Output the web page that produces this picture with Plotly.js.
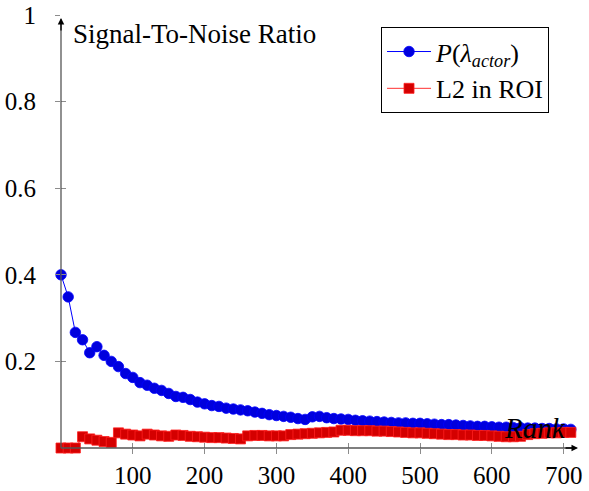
<!DOCTYPE html>
<html>
<head>
<meta charset="utf-8">
<script src="https://cdn.plot.ly/plotly-3.0.1.min.js"></script>
<style>html,body{margin:0;padding:0;background:#fff;}</style>
</head>
<body>
<div id="chart" style="width:589px;height:491px;"></div>
<script>
const ranks = [0,10,20,30,40,50,60,70,80,90,100,110,120,130,140,150,160,170,180,190,200,210,220,230,240,250,260,270,280,290,300,310,320,330,340,350,360,370,380,390,400,410,420,430,440,450,460,470,480,490,500,510,520,530,540,550,560,570,580,590,600,610,620,630,640,650,660,670,680,690,700,710];
const pActor = [0.400,0.349,0.267,0.250,0.220,0.234,0.214,0.200,0.188,0.172,0.163,0.151,0.145,0.138,0.133,0.126,0.119,0.117,0.112,0.106,0.102,0.098,0.096,0.092,0.090,0.088,0.086,0.083,0.080,0.077,0.075,0.073,0.071,0.068,0.066,0.072,0.073,0.070,0.068,0.067,0.066,0.064,0.063,0.062,0.061,0.060,0.059,0.058,0.058,0.057,0.057,0.056,0.055,0.054,0.054,0.053,0.052,0.051,0.050,0.050,0.049,0.048,0.048,0.047,0.047,0.046,0.046,0.045,0.045,0.044,0.044,0.043];
const l2Roi = [0.0,0.0,0.0,0.026,0.021,0.018,0.015,0.013,0.035,0.032,0.030,0.028,0.032,0.030,0.028,0.027,0.030,0.029,0.027,0.026,0.025,0.024,0.024,0.023,0.022,0.021,0.028,0.029,0.029,0.028,0.028,0.028,0.031,0.032,0.033,0.034,0.035,0.036,0.037,0.041,0.041,0.040,0.040,0.040,0.039,0.039,0.038,0.037,0.036,0.035,0.035,0.034,0.033,0.032,0.031,0.031,0.030,0.030,0.029,0.029,0.028,0.027,0.026,0.026,0.027,0.031,0.033,0.034,0.035,0.035,0.036,0.036];
const xTicks = [100,200,300,400,500,600,700];
const yTicks = [0.2,0.4,0.6,0.8,1];
const yTickText = ["0.2","0.4","0.6","0.8","1"];

const FONT = 'Liberation Serif';

const traces = [
  {x: ranks, y: pActor, type:'scatter', mode:'lines+markers', name:'<i>P</i>(<i>λ</i><sub><i>actor</i></sub>)',
   line:{color:'#0000ff', width:1}, marker:{symbol:'circle', size:10.5, color:'#0000dd', line:{color:'#0000ff', width:0.8}},
   cliponaxis:false},
  {x: ranks, y: l2Roi, type:'scatter', mode:'lines+markers', name:'L2 in ROI',
   line:{color:'#ff3030', width:1}, marker:{symbol:'square', size:10, color:'#d40000', line:{color:'#ff2020', width:0.8}},
   cliponaxis:false},
  {x: [], y: [], xaxis:'x2', yaxis:'y2', showlegend:false, type:'scatter'}
];

const axCommon = {showgrid:false, zeroline:false, showline:false, ticklen:5, tickwidth:1, tickcolor:'#8c8c8c',
  tickfont:{family:FONT, size:25, color:'#000'}};

const layout = {
  width:589, height:491,
  margin:{l:61, r:11, t:15, b:43},
  paper_bgcolor:'#fff', plot_bgcolor:'#fff',
  showlegend:true,
  font:{family:FONT, size:25, color:'#000'},
  xaxis: Object.assign({}, axCommon, {range:[0,720], tickvals:xTicks, ticktext:xTicks.map(String), ticks:'outside', ticklabelstandoff:0}),
  yaxis: Object.assign({}, axCommon, {range:[0,1], tickvals:yTicks, ticktext:yTickText, ticks:'outside', ticklabelstandoff:14}),
  xaxis2: Object.assign({}, axCommon, {range:[0,720], tickvals:xTicks, ticks:'inside', showticklabels:false, overlaying:'x', anchor:'y', side:'bottom'}),
  yaxis2: Object.assign({}, axCommon, {range:[0,1], tickvals:yTicks, ticks:'inside', showticklabels:false, overlaying:'y', anchor:'x', side:'left'}),
  legend:{x:0.619, y:0.972, xanchor:'left', yanchor:'top', bgcolor:'#fff', bordercolor:'#000', borderwidth:1,
    font:{family:FONT, size:26, color:'#000'}, tracegroupgap:0, itemwidth:44, entrywidth:140, entrywidthmode:'pixels'},
  shapes:[
    {type:'line', xref:'paper', yref:'paper', x0:0, x1:0.995, y0:0, y1:0, line:{color:'#555', width:1.3}},
    {type:'line', xref:'paper', yref:'paper', x0:0, x1:0, y0:0, y1:0.99, line:{color:'#555', width:1.3}}
  ],
  annotations:[
    {xref:'paper', yref:'paper', x:1.0, y:0, ax:-14, ay:0, axref:'pixel', ayref:'pixel', text:'', showarrow:true,
     arrowhead:2, arrowsize:1, arrowwidth:1.3, arrowcolor:'#000'},
    {xref:'paper', yref:'paper', x:0, y:0.993, ax:0, ay:14, text:'', showarrow:true,
     arrowhead:2, arrowsize:1, arrowwidth:1.3, arrowcolor:'#000'},
    {xref:'paper', yref:'paper', x:0.019, y:0.955, xanchor:'left', yanchor:'middle', showarrow:false,
     text:'Signal-To-Noise Ratio', font:{family:FONT, size:27, color:'#000'}},
    {xref:'paper', yref:'paper', x:0.98, y:0.047, xanchor:'right', yanchor:'middle', showarrow:false,
     text:'<i>Rank</i>', font:{family:FONT, size:29, color:'#000'}}
  ]
};

Plotly.newPlot('chart', traces, layout, {displayModeBar:false, staticPlot:true});
</script>
</body>
</html>
